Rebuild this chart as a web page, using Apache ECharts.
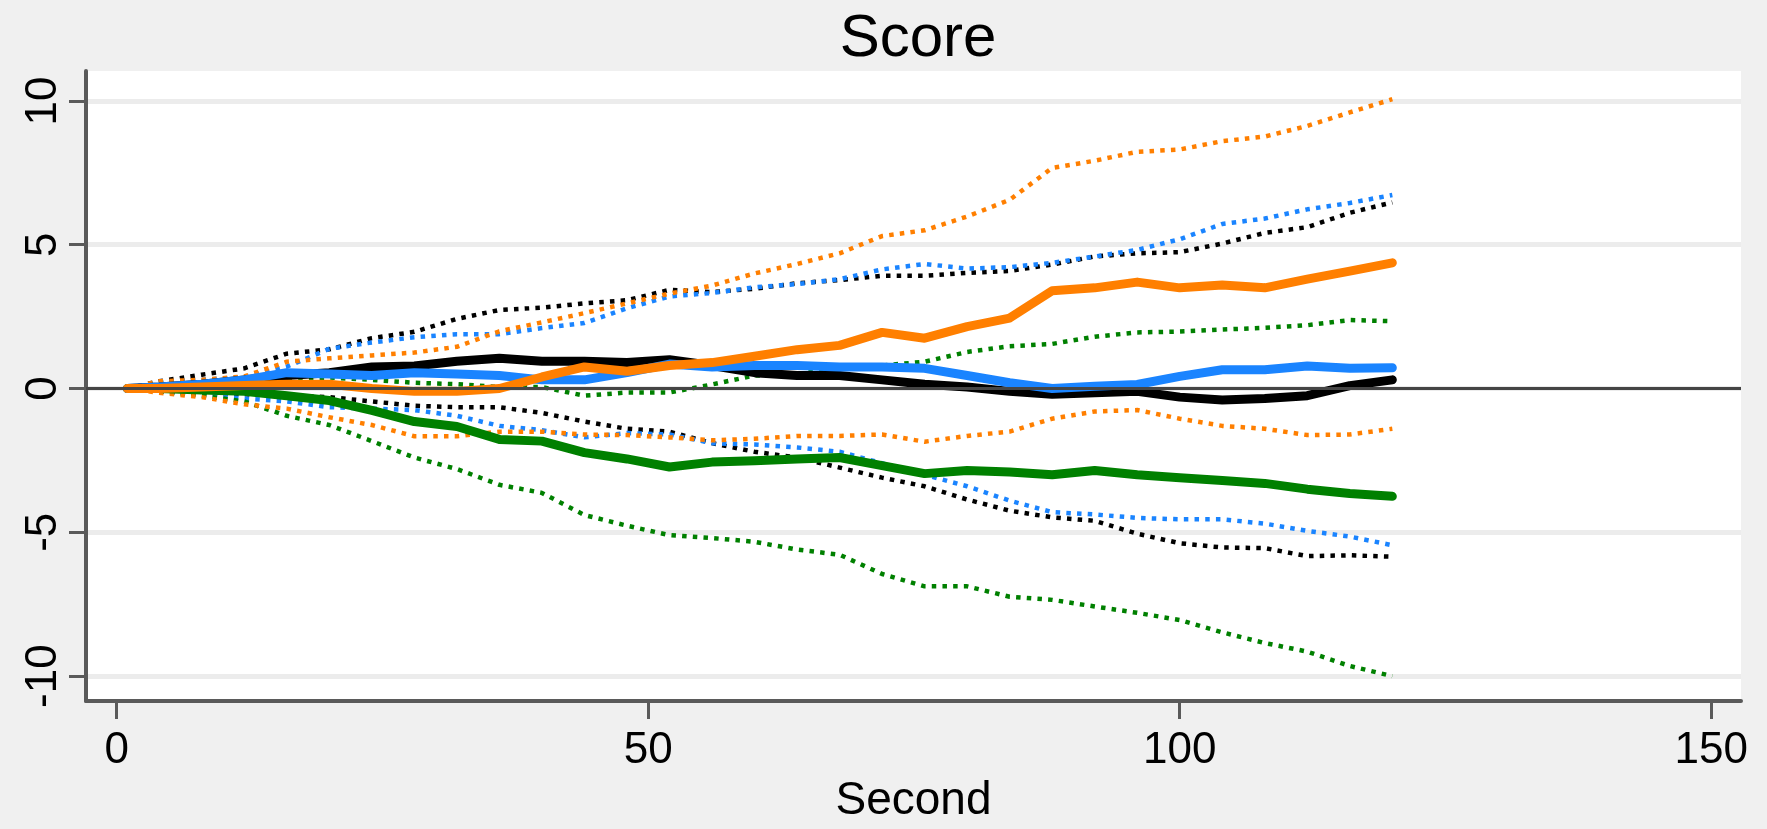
<!DOCTYPE html>
<html lang="en">
<head>
    <meta charset="UTF-8">
    <title>Score</title>
    <style>
        html, body {
            margin: 0;
            padding: 0;
            background: #f0f0f0;
        }

        #chart {
            width: 1767px;
            height: 829px;
        }
    </style>
</head>
<body>
    <div id="chart"></div>
    <script src="https://cdn.jsdelivr.net/npm/echarts@6/dist/echarts.min.js"></script>
    <script>

var seconds = [1, 4, 8, 12, 16, 20, 24, 28, 32, 36, 40, 44, 48, 52, 56, 60, 64, 68, 72, 76, 80, 84, 88, 92, 96, 100, 104, 108, 112, 116, 120];

// black group
var blackMean = [0, 0.05, 0.15, 0.3, 0.45, 0.55, 0.75, 0.78, 0.95, 1.05, 0.95, 0.95, 0.9, 1.0, 0.8, 0.55, 0.45, 0.45, 0.3, 0.15, 0.05, -0.1, -0.2, -0.15, -0.1, -0.3, -0.4, -0.35, -0.25, 0.1, 0.3];
var blackHi = [0, 0.25, 0.48, 0.7, 1.21, 1.36, 1.75, 1.97, 2.42, 2.73, 2.81, 2.96, 3.07, 3.43, 3.35, 3.47, 3.66, 3.77, 3.92, 3.92, 4.02, 4.09, 4.31, 4.59, 4.7, 4.74, 5.04, 5.41, 5.61, 6.11, 6.47];
var blackLo = [0, -0.1, -0.15, -0.2, -0.25, -0.3, -0.45, -0.6, -0.65, -0.65, -0.85, -1.15, -1.4, -1.5, -1.9, -2.2, -2.4, -2.75, -3.1, -3.4, -3.86, -4.25, -4.48, -4.6, -5.05, -5.38, -5.53, -5.55, -5.83, -5.8, -5.85];

// blue group
var blueMean = [0, 0.05, 0.15, 0.3, 0.55, 0.5, 0.45, 0.55, 0.5, 0.45, 0.3, 0.3, 0.55, 0.85, 0.75, 0.8, 0.8, 0.75, 0.75, 0.7, 0.45, 0.2, 0.0, 0.08, 0.14, 0.42, 0.65, 0.65, 0.78, 0.7, 0.72];
var blueHi = [0, 0.2, 0.3, 0.4, 0.76, 1.38, 1.6, 1.78, 1.89, 1.89, 2.1, 2.28, 2.79, 3.2, 3.32, 3.52, 3.63, 3.8, 4.14, 4.33, 4.17, 4.22, 4.37, 4.59, 4.82, 5.19, 5.72, 5.91, 6.23, 6.45, 6.73];
var blueLo = [0, -0.1, -0.2, -0.35, -0.45, -0.65, -0.7, -0.75, -0.95, -1.3, -1.45, -1.7, -1.55, -1.6, -1.9, -1.95, -2.05, -2.2, -2.6, -3.0, -3.4, -3.9, -4.3, -4.38, -4.5, -4.55, -4.55, -4.7, -4.95, -5.15, -5.45];

// green group
var greenMean = [0, 0.0, -0.05, -0.1, -0.25, -0.42, -0.76, -1.15, -1.32, -1.77, -1.83, -2.23, -2.45, -2.73, -2.56, -2.51, -2.45, -2.4, -2.68, -2.96, -2.85, -2.9, -3.0, -2.85, -3.0, -3.1, -3.2, -3.3, -3.5, -3.65, -3.75];
var greenHi = [0, 0.1, 0.2, 0.3, 0.35, 0.38, 0.3, 0.2, 0.15, 0.05, 0.05, -0.25, -0.14, -0.14, 0.14, 0.45, 0.48, 0.76, 0.8, 0.93, 1.27, 1.47, 1.55, 1.8, 1.95, 1.98, 2.05, 2.11, 2.2, 2.38, 2.34];
var greenLo = [0, -0.1, -0.25, -0.45, -0.95, -1.27, -1.83, -2.4, -2.8, -3.35, -3.63, -4.4, -4.77, -5.1, -5.2, -5.33, -5.6, -5.78, -6.45, -6.88, -6.88, -7.24, -7.35, -7.58, -7.8, -8.05, -8.48, -8.85, -9.15, -9.65, -10.0];

// orange group
var orangeMean = [0, 0.0, 0.05, 0.1, 0.15, 0.15, 0.0, -0.1, -0.1, 0.0, 0.4, 0.75, 0.6, 0.8, 0.9, 1.12, 1.35, 1.5, 1.95, 1.75, 2.15, 2.45, 3.4, 3.5, 3.7, 3.5, 3.6, 3.5, 3.8, 4.08, 4.37];
var orangeHi = [0, 0.25, 0.3, 0.42, 0.93, 1.05, 1.15, 1.25, 1.45, 1.99, 2.3, 2.62, 2.96, 3.3, 3.58, 4.0, 4.33, 4.7, 5.3, 5.5, 5.98, 6.56, 7.67, 7.92, 8.23, 8.31, 8.6, 8.76, 9.13, 9.6, 10.06];
var orangeLo = [0, -0.15, -0.3, -0.55, -0.7, -1.0, -1.27, -1.66, -1.66, -1.5, -1.5, -1.6, -1.62, -1.7, -1.8, -1.75, -1.65, -1.65, -1.6, -1.85, -1.65, -1.5, -1.05, -0.8, -0.75, -1.05, -1.3, -1.4, -1.62, -1.6, -1.4];

var xTicks = [0, 50, 100, 150];
var yTicks = [-10, -5, 0, 5, 10];

var colors = {
    black: '#000000',
    blue: '#1a84ff',
    green: '#008000',
    orange: '#ff7f00'
};

var font = 'Liberation Sans, Arial, sans-serif';

function pairs(vals) {
    return seconds.map(function (s, i) { return [s, vals[i]]; });
}

// dotted confidence bands
function band(name, vals, color) {
    return {
        name: name,
        type: 'line',
        data: pairs(vals),
        symbol: 'none',
        silent: true,
        lineStyle: { color: color, width: 4.5, type: [4.5, 6.2], cap: 'butt' }
    };
}

// thick mean lines
function mean(name, vals, color) {
    return {
        name: name,
        type: 'line',
        data: pairs(vals),
        symbol: 'none',
        silent: true,
        lineStyle: { color: color, width: 9, cap: 'round', join: 'round' }
    };
}

var series = [
    band('black hi', blackHi, colors.black),
    band('black lo', blackLo, colors.black),
    band('blue hi', blueHi, colors.blue),
    band('blue lo', blueLo, colors.blue),
    band('green hi', greenHi, colors.green),
    band('green lo', greenLo, colors.green),
    band('orange hi', orangeHi, colors.orange),
    band('orange lo', orangeLo, colors.orange),
    mean('black', blackMean, colors.black),
    mean('green', greenMean, colors.green),
    mean('blue', blueMean, colors.blue),
    mean('orange', orangeMean, colors.orange)
];

// the horizontal line at zero
series[0].markLine = {
    silent: true,
    symbol: 'none',
    label: { show: false },
    lineStyle: { color: '#454545', width: 3, type: 'solid' },
    data: [{ yAxis: 0 }]
};

var chart = echarts.init(document.getElementById('chart'));

chart.setOption({
    animation: false,
    backgroundColor: '#f0f0f0',
    textStyle: { fontFamily: font },
    title: {
        text: 'Score',
        left: 913,
        top: 4,
        textAlign: 'center',
        textStyle: { fontFamily: font, fontSize: 60, fontWeight: 'normal', color: '#000' }
    },
    grid: {
        left: 86,
        right: 26,
        top: 71,
        bottom: 110,
        show: true,
        backgroundColor: '#ffffff',
        borderWidth: 0
    },
    xAxis: {
        type: 'value',
        min: -2.89,
        max: 152.8,
        name: 'Second',
        nameLocation: 'middle',
        nameGap: 69,
        nameTextStyle: { fontFamily: font, fontSize: 46, color: '#000' },
        axisLine: { show: true, onZero: false, lineStyle: { color: '#5a5a5a', width: 4 } },
        axisTick: { show: true, length: 18, customValues: xTicks, lineStyle: { color: '#5a5a5a', width: 3 } },
        axisLabel: { customValues: xTicks, fontFamily: font, fontSize: 44, color: '#000', margin: 28 },
        splitLine: { show: false }
    },
    yAxis: {
        type: 'value',
        min: -10.87,
        max: 11.04,
        axisLine: { show: true, onZero: false, lineStyle: { color: '#5a5a5a', width: 4 } },
        axisTick: { show: true, length: 17, customValues: yTicks, lineStyle: { color: '#5a5a5a', width: 3 } },
        axisLabel: { customValues: yTicks, rotate: 90, fontFamily: font, fontSize: 44, color: '#000', margin: 20 },
        splitLine: { show: true, lineStyle: { color: '#ececec', width: 5 } }
    },
    series: series
});

    </script>
</body>
</html>
